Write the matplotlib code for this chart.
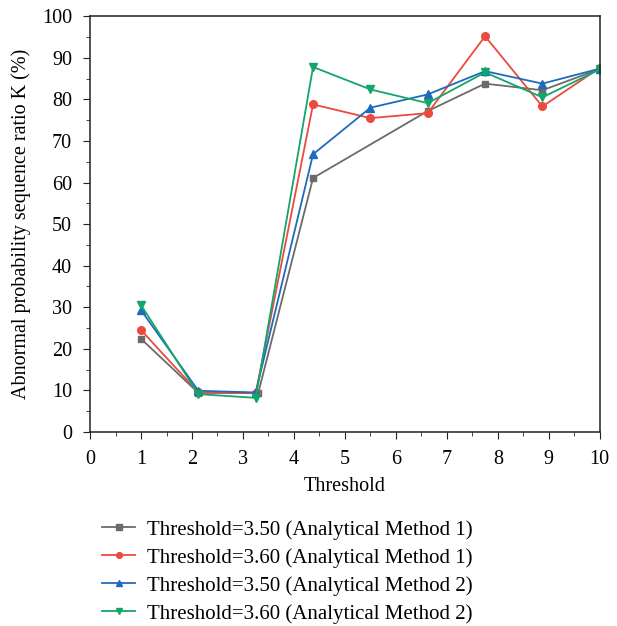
import numpy as np
import matplotlib.pyplot as plt

plt.rcParams['font.family'] = ['Liberation Serif', 'DejaVu Serif']

# threshold positions (9 evenly spaced points between 1 and 10)
x_all = [1, 2.125, 3.25, 4.375, 5.5, 6.625, 7.75, 8.875, 10]
# the 3.50 / method 1 curve has no point at 5.5
x_gray = [1, 2.125, 3.3, 4.375, 6.625, 7.75, 8.875, 10]

k_350_m1 = [22.4, 9.4, 9.4, 61.1, 77.2, 83.8, 82.2, 87.3]
k_360_m1 = [24.5, 9.5, 9.3, 78.8, 75.5, 76.7, 95.2, 78.3, 87.6]
k_350_m2 = [29.3, 9.9, 9.5, 66.8, 78.0, 81.2, 86.8, 83.8, 87.4]
k_360_m2 = [30.5, 9.1, 8.2, 87.8, 82.4, 79.1, 86.5, 80.5, 87.2]

fig = plt.figure(figsize=(6.17, 6.26), dpi=100)
ax = fig.add_axes([0.146, 0.31, 0.826, 0.664])

ax.plot(x_gray, k_350_m1, color='#6b6b6b', marker='s', ms=5, lw=1.3,
        label='Threshold=3.50 (Analytical Method 1)')
ax.plot(x_all, k_360_m1, color='#ec4a3f', marker='o', ms=5.5, lw=1.3,
        label='Threshold=3.60 (Analytical Method 1)')
ax.plot(x_all, k_350_m2, color='#1e6bbd', marker='^', ms=6, lw=1.3,
        label='Threshold=3.50 (Analytical Method 2)')
ax.plot(x_all, k_360_m2, color='#12a66a', marker='v', ms=6, lw=1.3,
        label='Threshold=3.60 (Analytical Method 2)')

ax.set_xlim(0, 10)
ax.set_ylim(0, 100)
ax.set_xticks(np.arange(0, 11, 1))
ax.set_xticks(np.arange(0.5, 10, 1), minor=True)
ax.set_yticks(np.arange(0, 101, 10))
ax.set_yticks(np.arange(5, 100, 10), minor=True)
ax.tick_params(which='both', direction='out', labelsize=14.5, color='#222222')
ax.tick_params(which='major', length=5, pad=8)
ax.tick_params(which='minor', length=3)
for s in ax.spines.values():
    s.set_linewidth(1.1)
    s.set_color('#222222')

ax.set_xlabel('Threshold', fontsize=14.5, labelpad=6)
ax.set_ylabel('Abnormal probability sequence ratio K (%)', fontsize=14.5,
              labelpad=8)

fig.legend(loc='upper left', bbox_to_anchor=(0.152, 0.183), frameon=False,
           fontsize=15, handlelength=1.6, labelspacing=0.4, handletextpad=0.55,
           markerscale=0.75, borderaxespad=0)

fig.savefig('out.png', dpi=100)
